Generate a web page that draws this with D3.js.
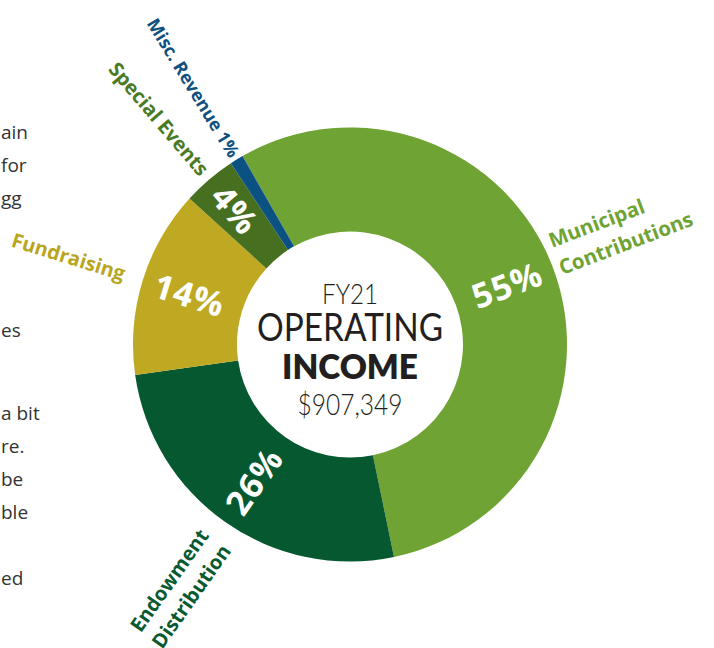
<!DOCTYPE html>
<html>
<head>
<meta charset="utf-8">
<script src="https://cdn.jsdelivr.net/npm/d3@7"></script>
<style>
  html, body { margin: 0; padding: 0; background: #fff; }
  svg { display: block; }
</style>
</head>
<body>
<div id="chart"></div>
<script>
var width = 714,
    height = 648;

// Income sources, in percent of total
var categories = ["Municipal Contributions", "Endowment Distribution", "Fundraising", "Special Events", "Misc. Revenue"];
var shares = [55, 26, 14, 4, 1];
var labelLines = [["Municipal", "Contributions"], ["Endowment", "Distribution"], ["Fundraising"], ["Special Events"], ["Misc. Revenue 1%"]];
var pctLabels = ["55%", "26%", "14%", "4%", ""];

var titleLines = ["FY21", "OPERATING", "INCOME", "$907,349"];

// cut-off words of the paragraph to the left of the chart
var sideWords = ["ain", "for", "gg", "es", "a bit", "re.", "be", "ble", "ed"];
var sideRows = [0, 1, 2, 6, 8.5, 9.5, 10.5, 11.5, 13.5];

var colors = ["#6fa333", "#05582f", "#c0a922", "#46701f", "#0b5282"];
var textColors = ["#6fa333", "#0a5a31", "#b8a61f", "#4a7a24", "#0f507f"];

// label layout: radius of the label start/end and baseline offsets per line
var labelLayout = [
  { r: 223, dy: [-19, 10], size: 20.5 },
  { r: 237, dy: [-5, 22], size: 20 },
  { r: 236, dy: [6], size: 20 },
  { r: 225, dy: [6], size: 20 },
  { r: 221, dy: [6], size: 18 }
];
var pctRadius = [168, 167, 168, 177, 0];

var cx = 350, cy = 344.5,
    outerR = 217, innerR = 113;

var svg = d3.select("#chart").append("svg")
    .attr("width", width)
    .attr("height", height)
    .attr("viewBox", "0 0 " + width + " " + height);

// side paragraph fragments
var sideY = d3.scaleLinear().domain([0, 1]).range([139, 172]);
svg.append("g").selectAll("text")
    .data(sideWords)
  .enter().append("text")
    .attr("x", 1)
    .attr("y", function(d, i) { return sideY(sideRows[i]); })
    .style("font-family", "'Open Sans', sans-serif")
    .style("font-size", "19px")
    .style("fill", "#333")
    .text(function(d) { return d; });

var start = -29.7 * Math.PI / 180;
var pie = d3.pie()
    .sort(null)
    .startAngle(start)
    .endAngle(start + 2 * Math.PI)
    .value(function(d) { return d; });

var arc = d3.arc()
    .innerRadius(innerR)
    .outerRadius(outerR);

var arcs = pie(shares);

var g = svg.append("g")
    .attr("transform", "translate(" + cx + "," + cy + ")");

g.selectAll("path.slice")
    .data(arcs)
  .enter().append("path")
    .attr("class", "slice")
    .attr("d", arc)
    .style("fill", function(d, i) { return colors[i]; });

function midDeg(d) {
  return ((d.startAngle + d.endAngle) / 2) * 180 / Math.PI;
}
function isRight(d) {
  var a = ((midDeg(d) % 360) + 360) % 360;
  return a < 180;
}

// percentage labels inside the ring
g.selectAll("text.pct")
    .data(arcs)
  .enter().append("text")
    .attr("class", "pct")
    .attr("transform", function(d, i) {
      var t = "rotate(" + (midDeg(d) - 90) + ") translate(" + pctRadius[i] + ",0)";
      return isRight(d) ? t : t + " rotate(180)";
    })
    .attr("dy", "0.36em")
    .attr("text-anchor", "middle")
    .style("font-family", "'Open Sans', sans-serif")
    .style("font-weight", "bold")
    .style("font-size", "34px")
    .style("letter-spacing", "1px")
    .style("fill", "#fff")
    .text(function(d, i) { return pctLabels[i]; });

// category labels outside the ring
var lab = g.selectAll("g.lab")
    .data(arcs)
  .enter().append("g")
    .attr("class", "lab")
    .attr("transform", function(d, i) {
      var t = "rotate(" + (midDeg(d) - 90) + ") translate(" + labelLayout[i].r + ",0)";
      return isRight(d) ? t : t + " rotate(180)";
    });

lab.each(function(d, i) {
  var el = d3.select(this);
  labelLines[i].forEach(function(line, j) {
    el.append("text")
      .attr("y", labelLayout[i].dy[j])
      .attr("text-anchor", isRight(d) ? "start" : "end")
      .style("font-family", "'Open Sans', sans-serif")
      .style("font-weight", "bold")
      .style("font-size", labelLayout[i].size + "px")
      .style("fill", textColors[i])
      .text(line);
  });
});

// centre title
var titleStyle = [
  { y: -41, size: 28, weight: 300, len: 56 },
  { y: -4, size: 38, weight: 400, len: 186 },
  { y: 34, size: 34, weight: 800, len: 136 },
  { y: 70, size: 29, weight: 300, len: 105 }
];
g.selectAll("text.title")
    .data(titleLines)
  .enter().append("text")
    .attr("class", "title")
    .attr("x", 0)
    .attr("y", function(d, i) { return titleStyle[i].y; })
    .attr("text-anchor", "middle")
    .attr("textLength", function(d, i) { return titleStyle[i].len; })
    .attr("lengthAdjust", "spacingAndGlyphs")
    .style("font-family", "Lato, sans-serif")
    .style("font-size", function(d, i) { return titleStyle[i].size + "px"; })
    .style("font-weight", function(d, i) { return titleStyle[i].weight; })
    .style("fill", "#231f20")
    .text(function(d) { return d; });
</script>
</body>
</html>
